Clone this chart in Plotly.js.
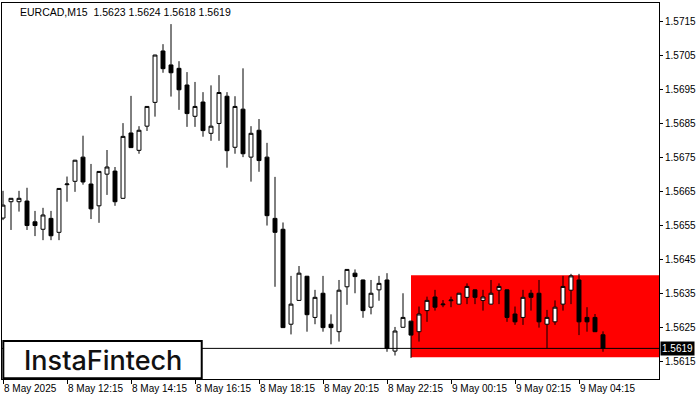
<!DOCTYPE html>
<html>
<head>
<meta charset="utf-8">
<script src="https://cdn.plot.ly/plotly-3.0.1.min.js"></script>
<style>html,body{margin:0;padding:0;background:#fff;}#chart{width:700px;height:400px;}</style>
</head>
<body>
<div id="chart"></div>
<script>
// 15-minute bars starting 8 May 2025 10:15
const startTime = '2025-05-08T10:15:00';
const open  = [1.56573,1.56621,1.56621,1.56623,1.56562,1.56540,1.56572,1.56531,1.56671,1.56681,
               1.56752,1.56673,1.56609,1.56702,1.56711,1.56631,1.56823,1.56772,1.56843,1.56913,
               1.57064,1.57023,1.57013,1.56964,1.56872,1.56914,1.56822,1.56851,1.56931,1.56781,
               1.56893,1.56752,1.56831,1.56752,1.56572,1.56540,1.56261,1.56331,1.56402,1.56281,
               1.56352,1.56261,1.56239,1.56371,1.56411,1.56391,1.56311,1.56362,1.56391,1.56182,
               1.56252,1.56270,1.56239,1.56301,1.56341,1.56318,1.56330,1.56320,1.56340,1.56362,
               1.56331,1.56320,1.56361,1.56362,1.56291,1.56281,1.56352,1.56352,1.56261,1.56268,
               1.56320,1.56361,1.56391,1.56281,1.56281,1.56230];
const high  = [1.56653,1.56632,1.56653,1.56662,1.56594,1.56603,1.56594,1.56661,1.56695,1.56744,
               1.56815,1.56732,1.56711,1.56773,1.56723,1.56852,1.56932,1.56843,1.56902,1.57053,
               1.57084,1.57143,1.57034,1.57002,1.56973,1.56943,1.56963,1.56993,1.56943,1.56931,
               1.57013,1.56843,1.56864,1.56794,1.56694,1.56560,1.56403,1.56432,1.56403,1.56362,
               1.56403,1.56290,1.56391,1.56423,1.56422,1.56392,1.56391,1.56403,1.56411,1.56253,
               1.56352,1.56271,1.56313,1.56342,1.56362,1.56332,1.56342,1.56353,1.56381,1.56363,
               1.56362,1.56391,1.56381,1.56363,1.56313,1.56362,1.56362,1.56391,1.56303,1.56331,
               1.56403,1.56409,1.56409,1.56311,1.56291,1.56240];
const low   = [1.56567,1.56538,1.56592,1.56538,1.56520,1.56508,1.56508,1.56508,1.56621,1.56650,
               1.56671,1.56570,1.56559,1.56641,1.56609,1.56630,1.56779,1.56762,1.56829,1.56871,
               1.57000,1.56930,1.56891,1.56841,1.56841,1.56812,1.56800,1.56800,1.56721,1.56762,
               1.56752,1.56680,1.56709,1.56551,1.56371,1.56250,1.56231,1.56330,1.56239,1.56261,
               1.56239,1.56202,1.56210,1.56318,1.56352,1.56280,1.56290,1.56330,1.56180,1.56169,
               1.56251,1.56162,1.56210,1.56268,1.56301,1.56311,1.56311,1.56319,1.56320,1.56320,
               1.56301,1.56319,1.56320,1.56268,1.56259,1.56259,1.56301,1.56251,1.56190,1.56259,
               1.56301,1.56320,1.56229,1.56239,1.56238,1.56180];
const close = [1.56611,1.56631,1.56631,1.56551,1.56551,1.56582,1.56521,1.56660,1.56673,1.56743,
               1.56679,1.56600,1.56710,1.56723,1.56621,1.56813,1.56780,1.56831,1.56901,1.57052,
               1.57012,1.57000,1.56950,1.56880,1.56901,1.56830,1.56843,1.56942,1.56771,1.56901,
               1.56762,1.56822,1.56742,1.56580,1.56531,1.56251,1.56320,1.56411,1.56289,1.56340,
               1.56251,1.56251,1.56361,1.56422,1.56401,1.56301,1.56352,1.56381,1.56190,1.56241,
               1.56281,1.56229,1.56291,1.56331,1.56311,1.56320,1.56332,1.56352,1.56372,1.56340,
               1.56341,1.56352,1.56372,1.56281,1.56268,1.56340,1.56340,1.56268,1.56281,1.56311,
               1.56372,1.56403,1.56268,1.56268,1.56239,1.56190];
const tickTimes  = ['2025-05-08 10:15','2025-05-08 12:15','2025-05-08 14:15','2025-05-08 16:15','2025-05-08 18:15',
                    '2025-05-08 20:15','2025-05-08 22:15','2025-05-09 00:15','2025-05-09 02:15','2025-05-09 04:15'];
const tickLabels = ['8 May 2025','8 May 12:15','8 May 14:15','8 May 16:15','8 May 18:15',
                    '8 May 20:15','8 May 22:15','9 May 00:15','9 May 02:15','9 May 04:15'];
const yTicks = [1.5615,1.5625,1.5635,1.5645,1.5655,1.5665,1.5675,1.5685,1.5695,1.5705,1.5715];
const yTickLabels = ['1.5615','1.5625','1.5635','1.5645','1.5655','1.5665','1.5675','1.5685','1.5695','1.5705','1.5715'];
const zoneStart = '2025-05-08 23:00';
const zoneTop = 1.56405, zoneBottom = 1.56164;
const bidPrice = 1.5619;
const titleText = 'EURCAD,M15  1.5623 1.5624 1.5618 1.5619';
const logoText = 'InstaFintech';

function fmt(d){
  const p = n => String(n).padStart(2,'0');
  return d.getFullYear()+'-'+p(d.getMonth()+1)+'-'+p(d.getDate())+' '+p(d.getHours())+':'+p(d.getMinutes());
}
const t0 = new Date(startTime);
const times = open.map((_, i) => fmt(new Date(t0.getTime() + i*15*60000)));

const trace = {
  type: 'candlestick',
  x: times, open: open, high: high, low: low, close: close,
  increasing: {line: {color: '#000', width: 1}, fillcolor: '#fff'},
  decreasing: {line: {color: '#000', width: 1}, fillcolor: '#000'},
  whiskerwidth: 0,
  hoverinfo: 'none',
  showlegend: false
};

const layout = {
  width: 700, height: 400,
  margin: {l: 2, r: 41, t: 3, b: 21, pad: 0},
  paper_bgcolor: '#fff', plot_bgcolor: '#fff',
  font: {family: 'Liberation Sans, Arial, sans-serif', size: 10, color: '#000'},
  showlegend: false,
  xaxis: {
    type: 'date',
    range: ['2025-05-08 10:13:07', '2025-05-09 06:45'],
    rangeslider: {visible: false},
    showgrid: false, zeroline: false,
    showline: true, mirror: true, linecolor: '#000', linewidth: 1,
    ticks: 'outside', ticklen: 4, tickcolor: '#000', tickwidth: 1,
    tickmode: 'array', tickvals: tickTimes, ticktext: tickLabels,
    tickangle: 0,
    ticklabelposition: 'outside right',
    tickfont: {family: 'Liberation Sans, Arial, sans-serif', size: 10, color: '#000'},
    fixedrange: true
  },
  yaxis: {
    side: 'right',
    range: [1.56100, 1.57205],
    showgrid: false, zeroline: false,
    showline: true, mirror: true, linecolor: '#000', linewidth: 1,
    ticks: 'outside', ticklen: 3, tickcolor: '#000', tickwidth: 1,
    tickmode: 'array', tickvals: yTicks, ticktext: yTickLabels,
    tickfont: {family: 'Liberation Sans, Arial, sans-serif', size: 10, color: '#000'},
    fixedrange: true
  },
  shapes: [
    {type: 'rect', layer: 'below', xref: 'x', yref: 'y', x0: zoneStart, x1: '2025-05-09 06:45',
     y0: zoneBottom, y1: zoneTop, fillcolor: '#ff0000', line: {width: 0}},
    {type: 'line', layer: 'above', xref: 'paper', yref: 'y', x0: 0, x1: 1, y0: bidPrice, y1: bidPrice,
     line: {color: '#000', width: 1}},
    {type: 'rect', layer: 'above', xref: 'paper', yref: 'paper', x0: 0.002, x1: 0.304, y0: 0.002, y1: 0.101,
     fillcolor: '#fff', line: {color: '#000', width: 2}}
  ],
  annotations: [
    {xref: 'paper', yref: 'paper', x: 0.024, y: 0.977, xanchor: 'left', yanchor: 'middle',
     text: titleText, showarrow: false,
     font: {family: 'Liberation Sans, Arial, sans-serif', size: 10.5, color: '#000'}},
    {xref: 'paper', yref: 'y', x: 1, y: bidPrice, xanchor: 'left', yanchor: 'middle', xshift: 1,
     text: '1.5619', showarrow: false, bgcolor: '#000', borderpad: 1,
     font: {family: 'Liberation Sans, Arial, sans-serif', size: 10, color: '#fff'}},
    {xref: 'paper', yref: 'paper', x: 0.153, y: 0.05, xanchor: 'center', yanchor: 'middle',
     text: logoText, showarrow: false,
     font: {family: 'Inter, sans-serif', size: 27, weight: 500, color: '#111'}}
  ]
};

Plotly.newPlot('chart', [trace], layout, {staticPlot: true, displayModeBar: false});
</script>
</body>
</html>
